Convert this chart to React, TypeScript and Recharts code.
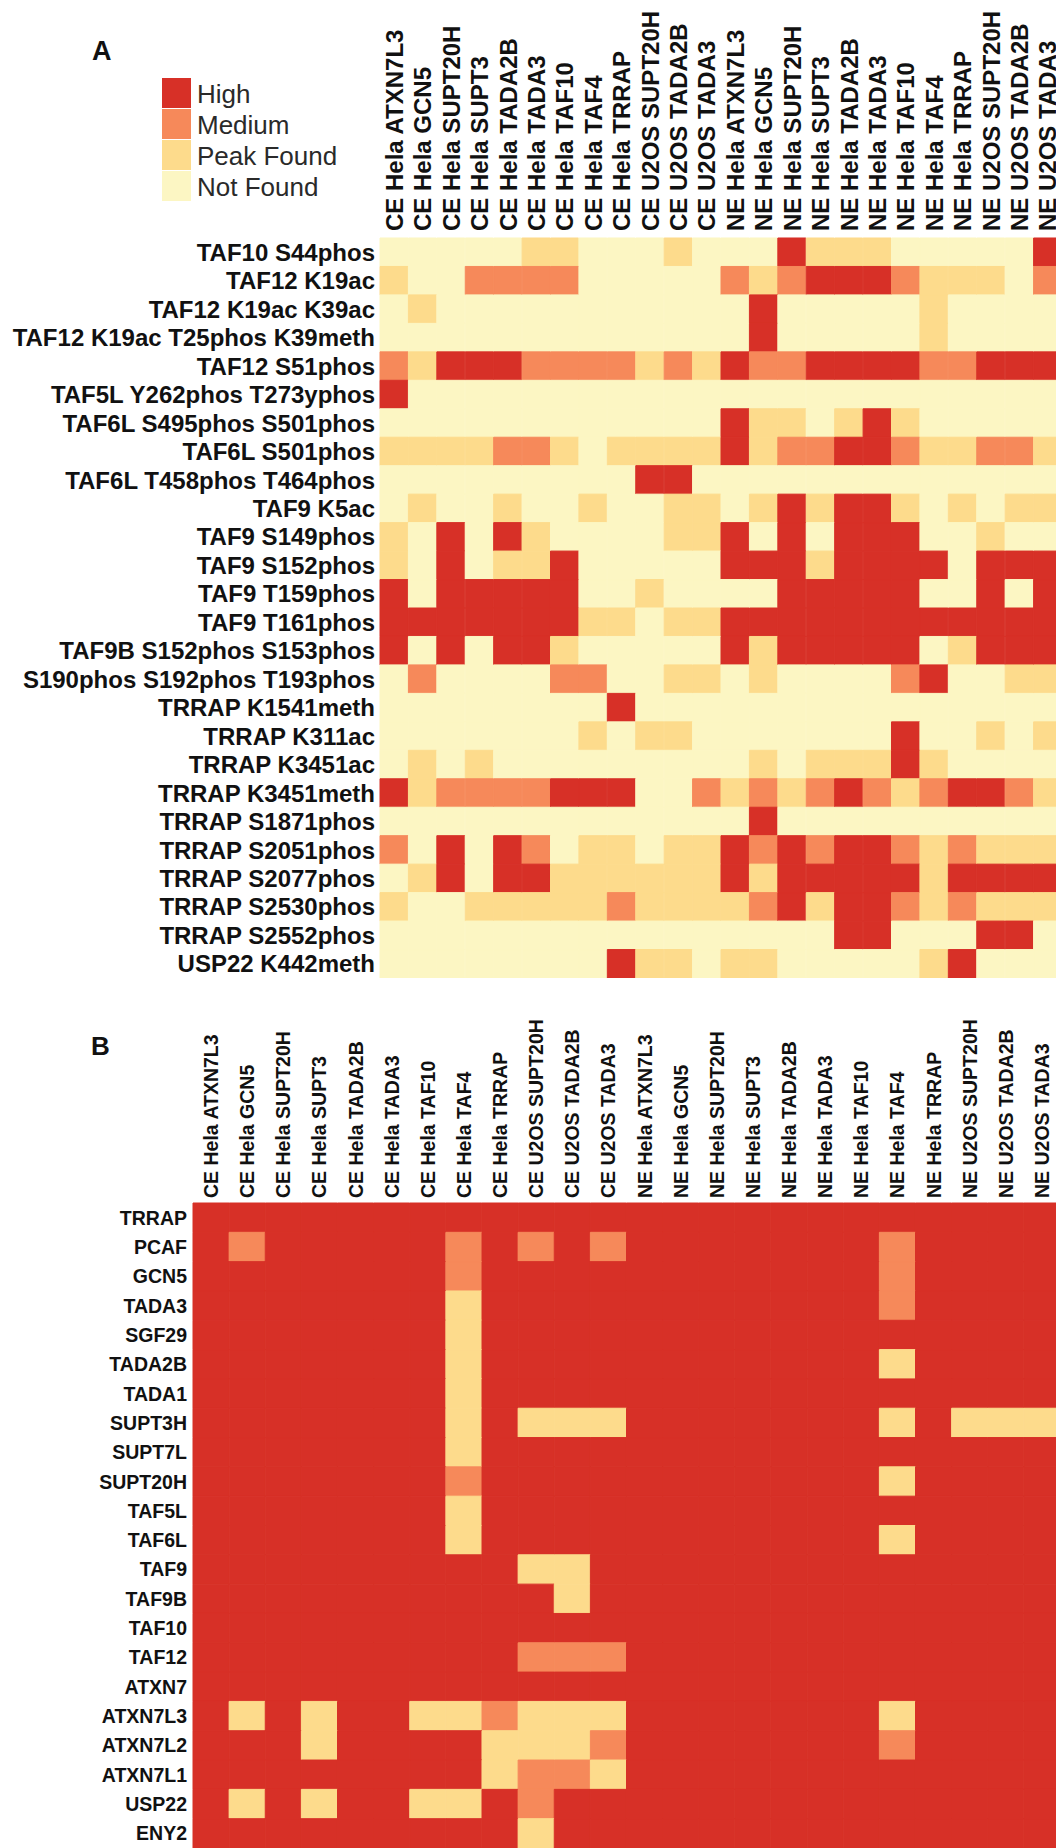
import { useMemo } from 'react'
import { BarChart, Bar, XAxis, YAxis, Cell, Legend } from 'recharts'

const FONT = '"Liberation Sans", Arial, Helvetica, sans-serif'

// H = High, M = Medium, P = Peak Found, N = Not Found
const LEVEL_KEYS = ['H', 'M', 'P', 'N']
const LEVEL_LABELS = ['High', 'Medium', 'Peak Found', 'Not Found']
const LEVEL_COLOR: Record<string, string> = {
  H: '#d73027',
  M: '#f6895a',
  P: '#fddb8c',
  N: '#fcf6c3',
}

const SAMPLES = [
  'CE Hela ATXN7L3', 'CE Hela GCN5', 'CE Hela SUPT20H', 'CE Hela SUPT3', 'CE Hela TADA2B',
  'CE Hela TADA3', 'CE Hela TAF10', 'CE Hela TAF4', 'CE Hela TRRAP', 'CE U2OS SUPT20H',
  'CE U2OS TADA2B', 'CE U2OS TADA3', 'NE Hela ATXN7L3', 'NE Hela GCN5', 'NE Hela SUPT20H',
  'NE Hela SUPT3', 'NE Hela TADA2B', 'NE Hela TADA3', 'NE Hela TAF10', 'NE Hela TAF4',
  'NE Hela TRRAP', 'NE U2OS SUPT20H', 'NE U2OS TADA2B', 'NE U2OS TADA3',
]

// panel A: modification sites
const A_ROWS = [
  'TAF10 S44phos', 'TAF12 K19ac', 'TAF12 K19ac K39ac', 'TAF12 K19ac T25phos K39meth',
  'TAF12 S51phos', 'TAF5L Y262phos T273yphos', 'TAF6L S495phos S501phos', 'TAF6L S501phos',
  'TAF6L T458phos T464phos', 'TAF9 K5ac', 'TAF9 S149phos', 'TAF9 S152phos', 'TAF9 T159phos',
  'TAF9 T161phos', 'TAF9B S152phos S153phos', 'S190phos S192phos T193phos', 'TRRAP K1541meth',
  'TRRAP K311ac', 'TRRAP K3451ac', 'TRRAP K3451meth', 'TRRAP S1871phos', 'TRRAP S2051phos',
  'TRRAP S2077phos', 'TRRAP S2530phos', 'TRRAP S2552phos', 'USP22 K442meth',
]
const A_LEVELS = [
  'NNNNNPPNNNPNNNHPPPNNNNNH',
  'PNNMMMMNNNNNMPMHHHMPPPNM',
  'NPNNNNNNNNNNNHNNNNNPNNNN',
  'NNNNNNNNNNNNNHNNNNNPNNNN',
  'MPHHHMMMMPMPHMMHHHHMMHHH',
  'HNNNNNNNNNNNNNNNNNNNNNNN',
  'NNNNNNNNNNNNHPPNPHPNNNNN',
  'PPPPMMPNPPPPHPMMHHMPPMMP',
  'NNNNNNNNNHHNNNNNNNNNNNNN',
  'NPNNPNNPNNPPNPHPHHPNPNPP',
  'PNHNHPNNNNPPHNHNHHHNNPNN',
  'PNHNPPHNNNNNHHHPHHHHNHHH',
  'HNHHHHHNNPNNNNHHHHHNNHNH',
  'HHHHHHHPPNPPHHHHHHHHHHHH',
  'HNHNHHPNNNNNHPHHHHHNPHHH',
  'NMNNNNMMNNPPNPNNNNMHNNPP',
  'NNNNNNNNHNNNNNNNNNNNNNNN',
  'NNNNNNNPNPPNNNNNNNHNNPNP',
  'NPNPNNNNNNNNNPNPPPHPNNNN',
  'HPMMMMHHHNNMPMPMHMPMHHMP',
  'NNNNNNNNNNNNNHNNNNNNNNNN',
  'MNHNHMNPPNPPHMHMHHMPMPPP',
  'NPHNHHPPPPPPHPHHHHHPHHHH',
  'PNNPPPPPMPPPPMHPHHMPMPPP',
  'NNNNNNNNNNNNNNNNHHNNNHHN',
  'NNNNNNNNHPPNPPNNNNNPHNNN',
]

// panel B: proteins
const B_ROWS = [
  'TRRAP', 'PCAF', 'GCN5', 'TADA3', 'SGF29', 'TADA2B', 'TADA1', 'SUPT3H', 'SUPT7L', 'SUPT20H',
  'TAF5L', 'TAF6L', 'TAF9', 'TAF9B', 'TAF10', 'TAF12', 'ATXN7', 'ATXN7L3', 'ATXN7L2',
  'ATXN7L1', 'USP22', 'ENY2',
]
const B_LEVELS = [
  'HHHHHHHHHHHHHHHHHHHHHHHH',
  'HMHHHHHMHMHMHHHHHHHMHHHH',
  'HHHHHHHMHHHHHHHHHHHMHHHH',
  'HHHHHHHPHHHHHHHHHHHMHHHH',
  'HHHHHHHPHHHHHHHHHHHHHHHH',
  'HHHHHHHPHHHHHHHHHHHPHHHH',
  'HHHHHHHPHHHHHHHHHHHHHHHH',
  'HHHHHHHPHPPPHHHHHHHPHPPP',
  'HHHHHHHPHHHHHHHHHHHHHHHH',
  'HHHHHHHMHHHHHHHHHHHPHHHH',
  'HHHHHHHPHHHHHHHHHHHHHHHH',
  'HHHHHHHPHHHHHHHHHHHPHHHH',
  'HHHHHHHHHPPHHHHHHHHHHHHH',
  'HHHHHHHHHHPHHHHHHHHHHHHH',
  'HHHHHHHHHHHHHHHHHHHHHHHH',
  'HHHHHHHHHMMMHHHHHHHHHHHH',
  'HHHHHHHHHHHHHHHHHHHHHHHH',
  'HPHPHHPPMPPPHHHHHHHPHHHH',
  'HHHPHHHHPPPMHHHHHHHMHHHH',
  'HHHHHHHHPMMPHHHHHHHHHHHH',
  'HPHPHHPPHMHHHHHHHHHHHHHH',
  'HHHHHHHHHPHHHHHHHHHHHHHH',
]

const ZERO_MARGIN = { top: 0, right: 0, bottom: 0, left: 0 }

// eslint-disable-next-line @typescript-eslint/no-explicit-any
function ColTick(props: any) {
  const { x, y, payload, fontSize } = props
  return (
    <text
      transform={`translate(${x},${y}) rotate(-90)`}
      dy="0.36em"
      textAnchor="start"
      fontSize={fontSize}
      fontWeight="bold"
      fontFamily={FONT}
      fill="#111"
    >
      {payload.value}
    </text>
  )
}

// eslint-disable-next-line @typescript-eslint/no-explicit-any
function RowTick(props: any) {
  const { x, y, payload, labels, fontSize } = props
  return (
    <text x={x} y={y} dy="0.36em" textAnchor="end" fontSize={fontSize} fontWeight="bold" fontFamily={FONT} fill="#111">
      {labels[Math.floor(payload.value)]}
    </text>
  )
}

const LegendBox = () => (
  <div style={{ fontFamily: FONT, fontSize: 26, color: '#2a2a2a' }}>
    {LEVEL_KEYS.map((k, i) => (
      <div key={k} style={{ display: 'flex', alignItems: 'center', height: 31 }}>
        <span style={{ width: 29, height: 30, background: LEVEL_COLOR[k], marginRight: 6, flex: 'none' }} />
        <span style={{ whiteSpace: 'nowrap', lineHeight: '30px', paddingTop: 3 }}>{LEVEL_LABELS[i]}</span>
      </div>
    ))}
  </div>
)

interface HeatmapProps {
  rows: string[]
  levels: string[]
  width: number
  height: number
  headerHeight: number
  labelWidth: number
  colFont: number
  rowFont: number
  headerGap: number
  labelGap: number
  legend?: boolean
}

function Heatmap({ rows, levels, width, height, headerHeight, labelWidth, colFont, rowFont, headerGap, labelGap, legend }: HeatmapProps) {
  // one record per sample column, one stacked unit per row
  const data = useMemo(() => SAMPLES.map(name => {
    const d: Record<string, string | number> = { name }
    rows.forEach((_, r) => { d['r' + r] = 1 })
    return d
  }), [rows])
  const yTicks = useMemo(() => rows.map((_, i) => i + 0.5), [rows])

  return (
    <BarChart width={width} height={height} data={data} margin={ZERO_MARGIN} barCategoryGap={0} barGap={0}>
      <XAxis
        dataKey="name"
        type="category"
        orientation="top"
        height={headerHeight}
        interval={0}
        tickLine={false}
        axisLine={false}
        tickSize={0}
        tickMargin={headerGap}
        tick={<ColTick fontSize={colFont} />}
      />
      <YAxis
        type="number"
        domain={[0, rows.length]}
        reversed
        ticks={yTicks}
        interval={0}
        width={labelWidth}
        tickLine={false}
        axisLine={false}
        tickSize={0}
        tickMargin={labelGap}
        tick={<RowTick labels={rows} fontSize={rowFont} />}
      />
      {rows.map((_, r) => (
        <Bar key={r} dataKey={'r' + r} stackId="cells" isAnimationActive={false}>
          {SAMPLES.map((_, c) => {
            // same-colour stroke hides the hairline seams between fractional-width cells
            const f = LEVEL_COLOR[levels[r][c]]
            return <Cell key={c} fill={f} stroke={f} strokeWidth={1} />
          })}
        </Bar>
      ))}
      {legend && (
        <Legend
          layout="horizontal"
          verticalAlign="middle"
          align="center"
          wrapperStyle={{ left: 162, top: 77, width: 200, height: 124 }}
          content={LegendBox}
        />
      )}
    </BarChart>
  )
}

export default function App() {
  return (
    <div style={{ position: 'relative', width: 1056, height: 1848, overflow: 'hidden', background: '#fff' }}>
      <style>{'body{margin:0}'}</style>
      <div style={{ position: 'absolute', left: 0, top: 0 }}>
        <Heatmap
          rows={A_ROWS}
          levels={A_LEVELS}
          width={1062}
          height={978}
          headerHeight={238}
          labelWidth={380}
          colFont={24}
          rowFont={24}
          headerGap={7}
          labelGap={5}
          legend
        />
      </div>
      <div style={{ position: 'absolute', left: 0, top: 1003 }}>
        <Heatmap
          rows={B_ROWS}
          levels={B_LEVELS}
          width={1060}
          height={845}
          headerHeight={200}
          labelWidth={193}
          colFont={19.5}
          rowFont={19.5}
          headerGap={5}
          labelGap={6}
        />
      </div>
      <svg width={1056} height={1848} style={{ position: 'absolute', left: 0, top: 0, pointerEvents: 'none' }}>
        <text x={92} y={60} fontSize={27} fontWeight="bold" fontFamily={FONT} fill="#111">A</text>
        <text x={91} y={1055} fontSize={26} fontWeight="bold" fontFamily={FONT} fill="#111">B</text>
      </svg>
    </div>
  )
}
